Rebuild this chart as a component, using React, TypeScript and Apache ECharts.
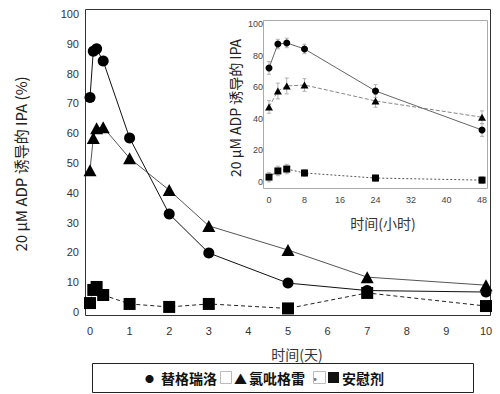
import React, { useEffect, useRef } from "react";
import * as echarts from "echarts";

// Main chart (days)
const mainDays = [0, 0.083, 0.167, 0.333, 1, 2, 3, 5, 7, 10];
const mainTicagrelor = [72, 87.5, 88.3, 84.2, 58.4, 32.9, 19.8, 9.7, 7.2, 6.7];
const mainClopidogrel = [47.6, 58.4, 61.7, 62, 51.6, 40.9, 28.9, 20.8, 11.7, 9];
const mainPlacebo = [3, 7.4, 8.4, 5.7, 2.7, 1.7, 2.7, 1.2, 6.4, 2];

// Inset chart (hours)
const insetHours = [0, 2, 4, 8, 24, 48];
const insetTicagrelor = [72.2, 87.3, 88, 84.2, 57.6, 32.9];
const insetClopidogrel = [47.5, 57.6, 60.8, 61.4, 51.3, 41];
const insetPlacebo = [3.1, 7, 8.2, 5.7, 2.5, 1.2];
const insetTicagrelorErr = [4, 3, 3, 3, 4, 4];
const insetClopidogrelErr = [4, 5, 5, 4, 4, 4];
const insetPlaceboErr = [3, 3, 3, 2, 2, 2];

const yTitle = "20 μM ADP 诱导的 IPA (%)";
const insetYTitle = "20 μM ADP 诱导的 IPA";
const xTitle = "时间(天)";
const insetXTitle = "时间(小时)";
const seriesNames = ["替格瑞洛", "氯吡格雷", "安慰剂"];

const pairs = (xs: number[], ys: number[]) => xs.map((x, i) => [x, ys[i]]);
const triples = (xs: number[], ys: number[], es: number[]) => xs.map((x, i) => [x, ys[i], es[i]]);

const errRender = (params: any, api: any) => {
  const x = api.value(0);
  const y = api.value(1);
  const e = api.value(2);
  const top = api.coord([x, y + e]);
  const bot = api.coord([x, y - e]);
  const st = { stroke: "#b0b0b0", lineWidth: 1 };
  return {
    type: "group",
    children: [
      { type: "line", shape: { x1: top[0], y1: top[1], x2: bot[0], y2: bot[1] }, style: st },
      { type: "line", shape: { x1: top[0] - 2, y1: top[1], x2: top[0] + 2, y2: top[1] }, style: st },
      { type: "line", shape: { x1: bot[0] - 2, y1: bot[1], x2: bot[0] + 2, y2: bot[1] }, style: st },
    ],
  };
};

const font = "'Liberation Sans', Arial, sans-serif";
const cjk = "'Noto Sans CJK SC', 'Liberation Sans', sans-serif";

const legText = (text: string, x: number, opts: any = {}) => ({
  type: "text",
  x,
  y: 378,
  style: {
    text,
    fontSize: 14,
    fontWeight: "bold",
    fontFamily: cjk,
    fill: "#111",
    verticalAlign: "middle",
    ...opts,
  },
});

export default function App() {
  const ref = useRef<HTMLDivElement>(null);
  useEffect(() => {
    if (!ref.current) return;
    const chart = echarts.init(ref.current, undefined, { renderer: "svg" });
    const axisCommon = {
      type: "value" as const,
      axisLine: { show: false },
      axisTick: { show: false },
      splitLine: { show: false },
    };
    chart.setOption({
      animation: false,
      backgroundColor: "#fff",
      grid: [
        { left: 90, top: 14, width: 396, height: 298 },
        { left: 269, top: 24, width: 213, height: 158 },
      ],
      xAxis: [
        {
          ...axisCommon,
          gridIndex: 0,
          min: 0,
          max: 10,
          interval: 1,
          axisLabel: { color: "#333", fontSize: 11, fontFamily: font, margin: 13 },
        },
        {
          ...axisCommon,
          gridIndex: 1,
          min: 0,
          max: 48,
          interval: 8,
          axisLabel: { color: "#444", fontSize: 9, fontFamily: font, margin: 13 },
        },
      ],
      yAxis: [
        {
          ...axisCommon,
          gridIndex: 0,
          min: 0,
          max: 100,
          interval: 10,
          axisLabel: { color: "#333", fontSize: 11, fontFamily: font, margin: 11 },
        },
        {
          ...axisCommon,
          gridIndex: 1,
          min: 0,
          max: 100,
          interval: 20,
          axisLabel: { color: "#444", fontSize: 9, fontFamily: font, margin: 6 },
        },
      ],
      graphic: [
        {
          type: "rect",
          shape: { x: 85.5, y: 9.5, width: 405, height: 306 },
          style: { fill: "none", stroke: "#333", lineWidth: 1 },
          z: 0,
        },
        {
          type: "rect",
          shape: { x: 263.5, y: 20.5, width: 224, height: 168 },
          style: { fill: "none", stroke: "#aaa", lineWidth: 1 },
          z: 0,
        },
        {
          type: "text",
          x: 20,
          y: 164,
          rotation: Math.PI / 2,
          style: {
            text: yTitle,
            fontSize: 15,
            fontFamily: cjk,
            fill: "#222",
            align: "center",
            verticalAlign: "middle",
          },
        },
        {
          type: "text",
          x: 235,
          y: 108,
          rotation: Math.PI / 2,
          style: {
            text: insetYTitle,
            fontSize: 14,
            fontFamily: cjk,
            fill: "#222",
            align: "center",
            verticalAlign: "middle",
          },
        },
        {
          type: "text",
          x: 297,
          y: 354,
          style: {
            text: xTitle,
            fontSize: 14,
            fontFamily: cjk,
            fill: "#333",
            align: "center",
            verticalAlign: "middle",
          },
        },
        {
          type: "text",
          x: 383,
          y: 223,
          style: {
            text: insetXTitle,
            fontSize: 14,
            fontFamily: cjk,
            fill: "#333",
            align: "center",
            verticalAlign: "middle",
          },
        },
        {
          type: "rect",
          shape: { x: 92.5, y: 363.5, width: 381, height: 29 },
          style: { fill: "#fff", stroke: "#222", lineWidth: 1 },
        },
        legText("●", 145, { fontSize: 9 }),
        legText(seriesNames[0], 161),
        {
          type: "rect",
          shape: { x: 220.5, y: 371.5, width: 11, height: 12 },
          style: { fill: "none", stroke: "#bbb", lineWidth: 1 },
        },
        legText("▲", 234, { fontSize: 13 }),
        legText(seriesNames[1], 249),
        legText("·", 308, { fontWeight: "normal", fill: "#777" }),
        {
          type: "rect",
          shape: { x: 313.5, y: 371.5, width: 12, height: 12 },
          style: { fill: "none", stroke: "#bbb", lineWidth: 1 },
        },
        {
          type: "rect",
          shape: { x: 328, y: 372, width: 11, height: 11 },
          style: { fill: "#111" },
        },
        legText(seriesNames[2], 342),
      ],
      series: [
        {
          type: "line",
          xAxisIndex: 0,
          yAxisIndex: 0,
          data: pairs(mainDays, mainPlacebo),
          symbol: "rect",
          symbolSize: 12,
          lineStyle: { color: "#222", width: 1, type: [4, 3] },
          itemStyle: { color: "#000" },
          z: 3,
        },
        {
          type: "line",
          xAxisIndex: 0,
          yAxisIndex: 0,
          data: pairs(mainDays, mainClopidogrel),
          symbol: "triangle",
          symbolSize: [13, 12],
          lineStyle: { color: "#555", width: 1 },
          itemStyle: { color: "#000" },
          z: 4,
        },
        {
          type: "line",
          xAxisIndex: 0,
          yAxisIndex: 0,
          data: pairs(mainDays, mainTicagrelor),
          symbol: "circle",
          symbolSize: 11,
          lineStyle: { color: "#111", width: 1 },
          itemStyle: { color: "#000" },
          z: 5,
        },
        {
          type: "custom",
          xAxisIndex: 1,
          yAxisIndex: 1,
          data: triples(insetHours, insetTicagrelor, insetTicagrelorErr),
          renderItem: errRender,
          encode: { x: 0, y: 1 },
          z: 2,
        },
        {
          type: "custom",
          xAxisIndex: 1,
          yAxisIndex: 1,
          data: triples(insetHours, insetClopidogrel, insetClopidogrelErr),
          renderItem: errRender,
          encode: { x: 0, y: 1 },
          z: 2,
        },
        {
          type: "custom",
          xAxisIndex: 1,
          yAxisIndex: 1,
          data: triples(insetHours, insetPlacebo, insetPlaceboErr),
          renderItem: errRender,
          encode: { x: 0, y: 1 },
          z: 2,
        },
        {
          type: "line",
          xAxisIndex: 1,
          yAxisIndex: 1,
          data: pairs(insetHours, insetPlacebo),
          symbol: "rect",
          symbolSize: 7,
          lineStyle: { color: "#555", width: 1, type: [2, 2] },
          itemStyle: { color: "#000" },
          z: 3,
        },
        {
          type: "line",
          xAxisIndex: 1,
          yAxisIndex: 1,
          data: pairs(insetHours, insetClopidogrel),
          symbol: "triangle",
          symbolSize: [8, 7],
          lineStyle: { color: "#888", width: 1, type: [4, 2] },
          itemStyle: { color: "#000" },
          z: 4,
        },
        {
          type: "line",
          xAxisIndex: 1,
          yAxisIndex: 1,
          data: pairs(insetHours, insetTicagrelor),
          symbol: "circle",
          symbolSize: 7,
          lineStyle: { color: "#666", width: 1 },
          itemStyle: { color: "#000" },
          z: 5,
        },
      ],
    });
    return () => chart.dispose();
  }, []);
  return (
    <div
      ref={ref}
      style={{ position: "absolute", left: 0, top: 0, width: 500, height: 394 }}
    />
  );
}
